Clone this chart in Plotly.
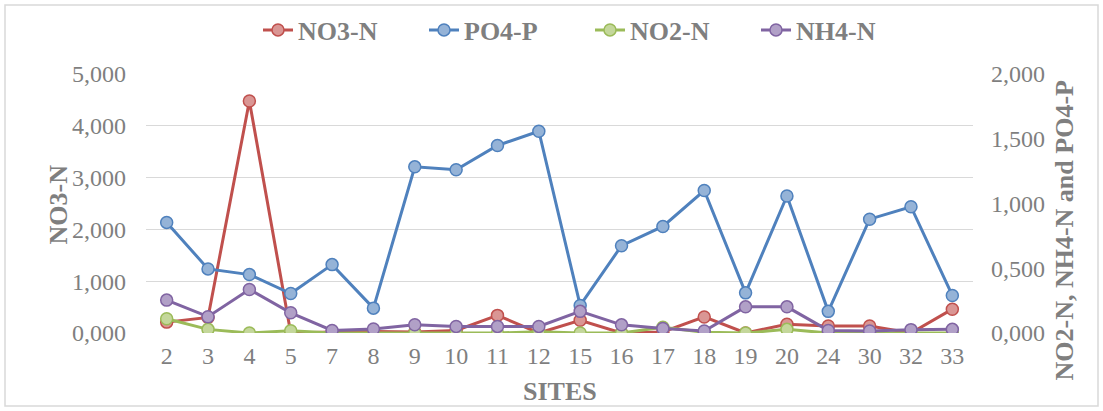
import plotly.graph_objects as go

sites = ["2", "3", "4", "5", "7", "8", "9", "10", "11", "12", "15", "16", "17", "18", "19", "20", "24", "30", "32", "33"]
no3_n = [0.21, 0.30, 4.48, 0.00, 0.02, 0.03, 0.02, 0.05, 0.34, 0.00, 0.245, 0.00, 0.02, 0.31, 0.00, 0.17, 0.135, 0.135, 0.00, 0.46]
po4_p = [0.854, 0.495, 0.451, 0.305, 0.528, 0.192, 1.283, 1.26, 1.448, 1.558, 0.213, 0.674, 0.823, 1.10, 0.31, 1.058, 0.167, 0.879, 0.975, 0.29]
no2_n = [0.11, 0.028, 0.0, 0.018, 0.0, 0.0, 0.0, 0.0, 0.0, 0.01, 0.0, 0.0, 0.045, 0.005, 0.0, 0.028, 0.0, 0.0, 0.0, 0.0]
nh4_n = [0.254, 0.126, 0.336, 0.156, 0.02, 0.031, 0.064, 0.051, 0.051, 0.051, 0.167, 0.063, 0.035, 0.015, 0.202, 0.202, 0.02, 0.015, 0.026, 0.028]

GRAY = "#7F7F7F"
FONT = "Liberation Serif"
W, H = 1103, 411

def px(x):
    return x / W

def py(y):
    return (H - y) / H

series = [
    ("NO3-N", no3_n, "y", "#C0504D", "#DA9694"),
    ("PO4-P", po4_p, "y2", "#4F81BD", "#95B3D7"),
    ("NO2-N", no2_n, "y2", "#9BBB59", "#C4D79B"),
    ("NH4-N", nh4_n, "y2", "#8064A2", "#B1A0C7"),
]

fig = go.Figure()
for name, vals, ax, lc, fc in series:
    fig.add_trace(go.Scatter(
        x=sites, y=vals, name=name, yaxis=ax, mode="lines+markers",
        line=dict(color=lc, width=3),
        marker=dict(size=12, color=fc, line=dict(color=lc, width=1.5)),
    ))

fig.update_layout(
    width=W, height=H,
    margin=dict(l=0, r=0, t=0, b=0, autoexpand=False),
    paper_bgcolor="white", plot_bgcolor="white",
    separators=",.",
    font=dict(family=FONT, color=GRAY, size=24),
    showlegend=True,
    legend=dict(orientation="h", x=px(590), xanchor="center", y=py(30), yanchor="middle",
                font=dict(family=FONT, size=26, color=GRAY, weight="bold"),
                entrywidth=121, entrywidthmode="pixels", bgcolor="rgba(0,0,0,0)"),
    xaxis=dict(type="category", range=[-0.5, len(sites) - 0.5], domain=[px(146), px(973)],
               showgrid=False, showline=False, zeroline=False, automargin=False,
               tickfont=dict(family=FONT, size=24, color=GRAY), ticks="", ticklabelstandoff=6),
    yaxis=dict(range=[0, 5], dtick=1, tickformat=".3f", domain=[py(333), py(74)], showgrid=True,
               gridcolor="#D9D9D9", gridwidth=1.3, zeroline=False, showline=False, ticks="",
               automargin=False,
               tickfont=dict(family=FONT, size=24, color=GRAY), ticklabelstandoff=19),
    yaxis2=dict(range=[0, 2], dtick=0.5, tickformat=".3f", overlaying="y", side="right",
                showgrid=False, zeroline=False, showline=False, ticks="", automargin=False,
                tickfont=dict(family=FONT, size=24, color=GRAY), ticklabelstandoff=17),
)

# axis titles
fig.add_annotation(text="<b>NO3-N</b>", xref="paper", yref="paper", x=px(42), y=py(205),
                   textangle=-90, showarrow=False, font=dict(family=FONT, size=26, color=GRAY))
fig.add_annotation(text="<b>NO2-N, NH4-N and PO4-P</b>", xref="paper", yref="paper",
                   x=px(1080), y=py(230), textangle=-90, showarrow=False,
                   font=dict(family=FONT, size=26, color=GRAY))
fig.add_annotation(text="<b>SITES</b>", xref="paper", yref="paper", x=px(560),
                   y=py(391), yanchor="middle", showarrow=False,
                   font=dict(family=FONT, size=26, color=GRAY))

# chart border
fig.add_shape(type="rect", xref="paper", yref="paper",
              x0=px(5), x1=px(1098), y0=py(406), y1=py(5),
              line=dict(color="#D9D9D9", width=1.5), layer="below")

fig.write_html("out.html", config={"displayModeBar": False},
               post_script="document.body.style.margin='0';")
